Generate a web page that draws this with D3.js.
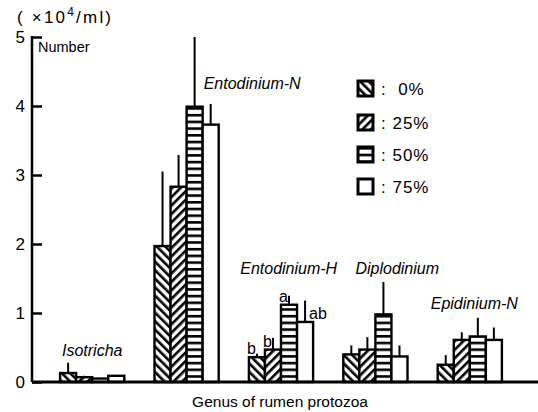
<!DOCTYPE html>
<meta charset="utf-8">
<style>
    body { margin: 0; background: #fff; }
    svg { display: block; font-family: "Liberation Sans", Arial, sans-serif; }
    text { fill: #000; }
    .genus { font-style: italic; font-size: 16px; }
</style>

<script src="https://cdnjs.cloudflare.com/ajax/libs/d3/7.8.5/d3.min.js"></script>

<svg id="chart" width="538" height="412"></svg>

<script>

// Data (x 10^4 / ml)

var genera = ['Isotricha', 'Entodinium-N', 'Entodinium-H', 'Diplodinium', 'Epidinium-N'];
var levels = ['0%', '25%', '50%', '75%'];

var mean0  = [0.13, 1.97, 0.36, 0.40, 0.25];
var mean25 = [0.07, 2.83, 0.47, 0.47, 0.61];
var mean50 = [0.05, 3.99, 1.12, 0.98, 0.66];
var mean75 = [0.09, 3.73, 0.87, 0.37, 0.61];

var sd0  = [0.15, 1.08, 0.05, 0.13, 0.14];
var sd25 = [0.02, 0.46, 0.17, 0.18, 0.11];
var sd50 = [0.00, 1.01, 0.13, 0.47, 0.27];
var sd75 = [0.00, 0.30, 0.31, 0.16, 0.18];

// significance letters, Entodinium-H only
var sigGenus = 'Entodinium-H';
var sigLetters = ['b', 'b', 'a', 'ab'];

var yTicks = [0, 1, 2, 3, 4, 5];


// Setup

var svg = d3.select('svg#chart');

var x0 = 32, y0 = 382, yTop = 37;

var means = [mean0, mean25, mean50, mean75];
var sds = [sd0, sd25, sd50, sd75];

var xGroup = d3.scaleBand()
    .domain(genera)
    .range([45, 517])
    .paddingInner(0.32)
    .paddingOuter(0.16);

var xBar = d3.scaleBand()
    .domain(levels)
    .range([0, xGroup.bandwidth()]);

var y = d3.scaleLinear()
    .domain([0, 5])
    .range([y0, yTop]);


// Fill patterns

var defs = svg.append('defs');

function stripes(id, angle, gap, width) {
    var p = defs.append('pattern')
        .attr('id', id)
        .attr('patternUnits', 'userSpaceOnUse')
        .attr('width', gap)
        .attr('height', gap)
        .attr('patternTransform', 'rotate(' + angle + ')');
    p.append('rect').attr('width', gap).attr('height', gap).attr('fill', '#fff');
    p.append('rect').attr('width', width).attr('height', gap).attr('fill', '#000');
}
stripes('p0', -45, 6, 2.6);
stripes('p25', 45, 6, 2.6);
stripes('p50', 90, 6.7, 2.6);

var fills = ['url(#p0)', 'url(#p25)', 'url(#p50)', '#fff'];


// Bars

var rows = [];
genera.forEach(function (g, gi) {
    levels.forEach(function (l, li) {
        rows.push({ genus: g, level: l, li: li, mean: means[li][gi], sd: sds[li][gi] });
    });
});

var groups = svg.selectAll('g.genus-group')
    .data(genera)
    .enter().append('g')
    .attr('class', 'genus-group')
    .attr('transform', function (g) { return 'translate(' + xGroup(g) + ',0)'; });

groups.selectAll('line.err')
    .data(function (g) { return rows.filter(function (r) { return r.genus === g && r.sd > 0; }); })
    .enter().append('line')
    .attr('class', 'err')
    .attr('x1', function (d) { return xBar(d.level) + xBar.bandwidth() / 2; })
    .attr('x2', function (d) { return xBar(d.level) + xBar.bandwidth() / 2; })
    .attr('y1', function (d) { return y(d.mean); })
    .attr('y2', function (d) { return y(d.mean + d.sd); })
    .attr('stroke', '#000')
    .attr('stroke-width', 2);

groups.selectAll('rect.bar')
    .data(function (g) { return rows.filter(function (r) { return r.genus === g; }); })
    .enter().append('rect')
    .attr('class', 'bar')
    .attr('x', function (d) { return xBar(d.level); })
    .attr('y', function (d) { return y(d.mean); })
    .attr('width', xBar.bandwidth())
    .attr('height', function (d) { return y(0) - y(d.mean); })
    .attr('fill', function (d) { return fills[d.li]; })
    .attr('stroke', '#000')
    .attr('stroke-width', 2.4);

// significance letters: left of the error line, except 'ab' (right)
var sgi = genera.indexOf(sigGenus);
svg.append('g')
    .selectAll('text')
    .data(sigLetters)
    .enter().append('text')
    .attr('font-size', 16)
    .attr('text-anchor', function (d, i) { return i === 3 ? 'start' : 'end'; })
    .attr('x', function (d, i) {
        var cx = xGroup(sigGenus) + xBar(levels[i]) + xBar.bandwidth() / 2;
        return i === 3 ? cx + 4 : cx - 1;
    })
    .attr('y', function (d, i) { return y(means[i][sgi]) - 3; })
    .text(function (d) { return d; });


// Axes

svg.append('line')
    .attr('x1', x0).attr('x2', 538)
    .attr('y1', y0).attr('y2', y0)
    .attr('stroke', '#000').attr('stroke-width', 3);

var yAxis = svg.append('g')
    .attr('transform', 'translate(' + x0 + ',0)')
    .call(d3.axisRight(y).tickValues(yTicks).tickSize(10).tickFormat(''));
yAxis.select('.domain').remove();
yAxis.selectAll('.tick line').attr('stroke-width', 2.5);
yAxis.append('line')
    .attr('y1', y0).attr('y2', yTop - 1)
    .attr('stroke', '#000').attr('stroke-width', 2.5);

svg.append('g')
    .selectAll('text')
    .data(yTicks)
    .enter().append('text')
    .attr('x', 25)
    .attr('y', function (d) { return y(d) + 6; })
    .attr('text-anchor', 'end')
    .attr('font-size', 17)
    .text(function (d) { return d; });

var unit = svg.append('text')
    .attr('x', 17).attr('y', 23)
    .attr('font-size', 17)
    .attr('letter-spacing', 2.2)
    .attr('xml:space', 'preserve');
unit.append('tspan').text('( ×10');
unit.append('tspan').attr('dy', -7).attr('font-size', 12).text('4');
unit.append('tspan').attr('dy', 7).text('/ml)');

svg.append('text')
    .attr('x', 38).attr('y', 52)
    .attr('font-size', 14.5)
    .text('Number');

svg.append('text')
    .attr('x', 280).attr('y', 407)
    .attr('text-anchor', 'middle')
    .attr('font-size', 15.5)
    .text('Genus of rumen protozoa');


// Genus labels

var labelLayout = {
    'Isotricha':    { dx: 0.5,  y: 356 },
    'Entodinium-N': { dx: 1.03, y: 89 },
    'Entodinium-H': { dx: 0.62, y: 274 },
    'Diplodinium':  { dx: 0.84, y: 274 },
    'Epidinium-N':  { dx: 0.57, y: 309 }
};

svg.append('g')
    .selectAll('text')
    .data(genera)
    .enter().append('text')
    .attr('class', 'genus')
    .attr('text-anchor', 'middle')
    .attr('x', function (g) { return xGroup(g) + labelLayout[g].dx * xGroup.bandwidth(); })
    .attr('y', function (g) { return labelLayout[g].y; })
    .text(function (g) { return g; });

// 'Entodinium-N' sits to the right of its bars
svg.selectAll('text.genus')
    .filter(function (g) { return g === 'Entodinium-N'; })
    .attr('text-anchor', 'start')
    .attr('x', xGroup('Entodinium-N') + xGroup.bandwidth() - 15);


// Legend

var legend = svg.append('g')
    .selectAll('g')
    .data(levels)
    .enter().append('g')
    .attr('transform', function (d, i) { return 'translate(358,' + [81, 115, 147, 179][i] + ')'; });

legend.append('rect')
    .attr('width', 15).attr('height', 15)
    .attr('fill', function (d, i) { return fills[i]; })
    .attr('stroke', '#000').attr('stroke-width', 3);

legend.append('text')
    .attr('x', 23).attr('y', 14)
    .attr('font-size', 17)
    .attr('letter-spacing', 1)
    .attr('xml:space', 'preserve')
    .text(function (d) { return d === '0%' ? ':  0%' : ': ' + d; });

</script>
